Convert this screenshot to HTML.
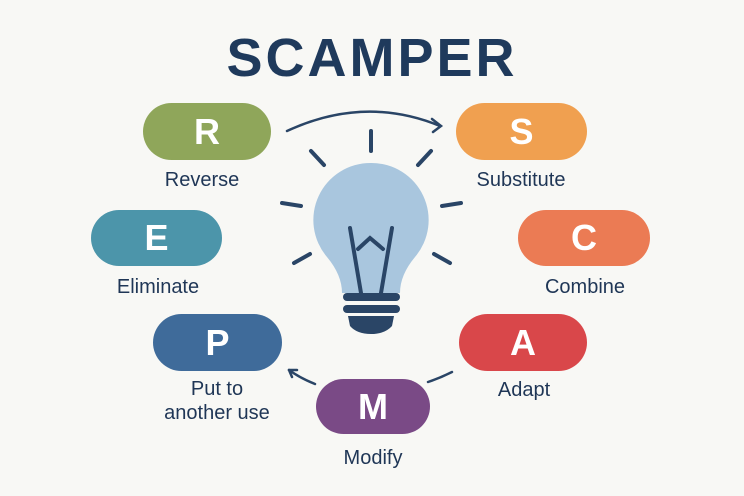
<!DOCTYPE html><html><head><style>
body{margin:0;background:#f8f8f5;width:744px;height:496px;overflow:hidden;font-family:"Liberation Sans",sans-serif}
.p{position:absolute;border-radius:30px;color:#fff;font-weight:bold;font-size:36px;display:flex;align-items:center;justify-content:center}
.l{position:absolute;color:#1f3656;font-size:20px;text-align:center;width:200px;line-height:24px}
</style></head><body>
<div style="position:absolute;left:0;width:744px;top:27px;text-align:center;font-weight:bold;font-size:54px;color:#1f3a5c;letter-spacing:3px">SCAMPER</div>
<svg width="744" height="496" style="position:absolute;left:0;top:0">
<g stroke="#2a4566" stroke-width="4" stroke-linecap="round" fill="none">
<path d="M287 131 Q365 95 440 126" stroke-width="2.5"/><path d="M432 119 L441 126 L433 132" stroke-width="2.5"/>
<path d="M315 384 Q300 378 289 370" stroke-width="2.5"/><path d="M289 370 L297 370 M289 370 L292 377" stroke-width="2.5"/>
<path d="M452 372 Q440 378 428 382" stroke-width="2.5"/>
<line x1="371" y1="131" x2="371" y2="151"/>
<line x1="311" y1="151" x2="324" y2="165"/><line x1="431" y1="151" x2="418" y2="165"/>
<line x1="282" y1="203" x2="301" y2="206"/><line x1="461" y1="203" x2="442" y2="206"/>
<line x1="294" y1="263" x2="310" y2="254"/><line x1="450" y1="263" x2="434" y2="254"/>
</g>
<path d="M371 163 A57 57 0 0 1 415 257 Q400 275 400 293 L342 293 Q342 275 327 257 A57 57 0 0 1 371 163Z" fill="#a9c6de"/>
<g stroke="#2a4566" stroke-width="4" stroke-linecap="round" fill="none">
<path d="M350 228 L361 293 M392 228 L381 293 M358 249 L370 238 L383 249"/>
</g>
<rect x="343" y="293" width="57" height="8" rx="4" fill="#2a4566"/>
<rect x="343" y="305" width="57" height="8" rx="4" fill="#2a4566"/>
<path d="M348 316 L394 316 L392 326 Q385 334 371 334 Q357 334 350 326Z" fill="#2a4566"/>
</svg>
<div class="p" style="left:143px;top:103px;width:128px;height:57px;background:#8fa65a">R</div>
<div class="l" style="left:102px;top:168px">Reverse</div>
<div class="p" style="left:456px;top:103px;width:131px;height:57px;background:#f0a050">S</div>
<div class="l" style="left:421px;top:168px">Substitute</div>
<div class="p" style="left:91px;top:210px;width:131px;height:56px;background:#4c95aa">E</div>
<div class="l" style="left:58px;top:275px">Eliminate</div>
<div class="p" style="left:518px;top:210px;width:132px;height:56px;background:#eb7b54">C</div>
<div class="l" style="left:485px;top:275px">Combine</div>
<div class="p" style="left:153px;top:314px;width:129px;height:57px;background:#3f6b9a">P</div>
<div class="l" style="left:117px;top:377px">Put to<br>another use</div>
<div class="p" style="left:459px;top:314px;width:128px;height:57px;background:#d9474a">A</div>
<div class="l" style="left:424px;top:378px">Adapt</div>
<div class="p" style="left:316px;top:379px;width:114px;height:55px;background:#7a4a86">M</div>
<div class="l" style="left:273px;top:446px">Modify</div>
</body></html>
